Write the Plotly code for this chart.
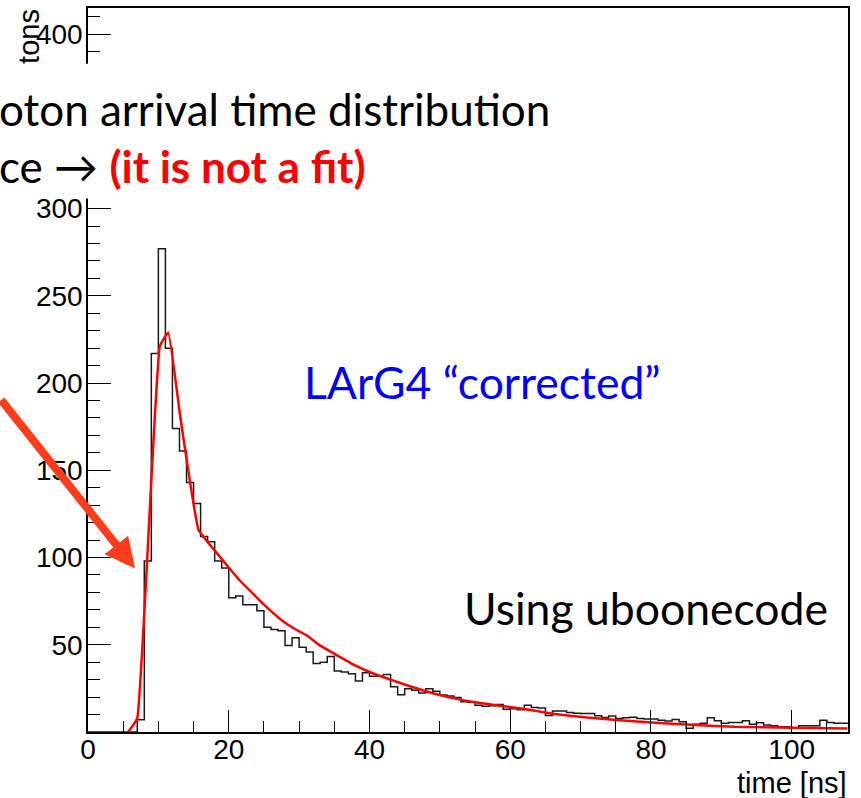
import plotly.graph_objects as go

# ---------------- data ----------------
# histogram: 1 ns bins from 0 to 108 ns
bin_low_edges = list(range(0, 108))
bin_counts = [
    0, 0, 0, 0, 0, 0, 0, 7, 98, 217,
    277, 220, 174, 161, 143, 131, 112, 109, 98, 94,
    77, 78, 73, 73, 69.5, 60, 58.7, 58, 49.6, 54,
    48.6, 45.8, 39.2, 40, 43.3, 35, 34.4, 33.4, 29.3, 34,
    32, 32, 33, 26, 21.4, 24.8, 23.9, 22.3, 24.8, 23.4,
    21.2, 20.7, 19.8, 17.3, 17, 15.4, 14.8, 15, 15.8, 13,
    13.3, 12.8, 15.3, 14, 13.8, 9.4, 12, 12, 11.2, 10.8,
    10.6, 10.6, 9.3, 8.3, 9.1, 7.8, 8.2, 8.5, 7.8, 7.4,
    7.4, 6.8, 6.3, 7.2, 5.9, 2.1, 4.4, 5, 8.2, 6.4,
    5, 5.5, 5.5, 6.4, 4.4, 5.3, 4, 3.6, 3, 3,
    2.4, 3.6, 3.6, 3.6, 6.8, 5.5, 5, 5,
]
hist_x_max = 108

# red reference curve
curve_t = [5.7, 7.0, 10.2, 11.4, 13.1, 15.7, 18.0, 20.2, 21.6, 23.0, 25.0, 27.3,
           29.2, 31.1, 33.0, 35.2, 37.8, 40.6, 43.0, 45.3, 50.1, 55.0, 61.5,
           66.0, 70.9, 78.5, 85.0, 91.8, 100.0, 107.9]
curve_v = [0, 8, 221, 229, 181, 116, 104, 93.3, 86.7, 81, 73, 64.8,
           59.5, 55.3, 49.5, 44.4, 38.5, 33.4, 30, 26.8, 21, 17, 13.5,
           10.5, 8.3, 5.9, 4.3, 3.0, 2.4, 2.0]

x_tick_vals = [0, 20, 40, 60, 80, 100]
# 350 sits under the slide's white text box in the picture
y_tick_vals = [50, 100, 150, 200, 250, 300, 400]

# ---------------- figure ----------------
W, H = 861, 798
L, R, T, B = 88, 13, 6, 66
PW, PH = W - L - R, H - T - B


def px(x):
    return (x - L) / PW


def py(y):
    return (H - B - y) / PH


step_x = bin_low_edges + [hist_x_max]
step_y = bin_counts + [bin_counts[-1]]

fig = go.Figure()
fig.add_trace(go.Scatter(
    x=step_x, y=step_y, mode="lines", line=dict(color="#1a1a1a", width=1.5, shape="hv"),
    hoverinfo="skip", showlegend=False))
fig.add_trace(go.Scatter(
    x=curve_t, y=curve_v, mode="lines", line=dict(color="#ff0000", width=2.5, shape="spline", smoothing=0.3),
    hoverinfo="skip", showlegend=False))

tickfont = dict(family="Liberation Sans, Arial, sans-serif", size=28, color="black")

fig.update_layout(
    width=W, height=H, autosize=False,
    margin=dict(l=L, r=R, t=T, b=B, pad=0),
    paper_bgcolor="white", plot_bgcolor="white",
    xaxis=dict(range=[0, hist_x_max], tickvals=x_tick_vals, ticks="inside", ticklen=22,
               tickwidth=1, tickcolor="black", showline=True, linecolor="black",
               linewidth=1.5, mirror=True, showgrid=False, zeroline=False,
               tickfont=tickfont, ticklabelstandoff=-8,
               minor=dict(dtick=5, tick0=0, ticks="inside", ticklen=11,
                          tickcolor="black", tickwidth=1, showgrid=False)),
    yaxis=dict(range=[0, 415], tickvals=y_tick_vals, ticks="inside", ticklen=23,
               tickwidth=1, tickcolor="black", showline=True, linecolor="black",
               linewidth=1.5, mirror=True, showgrid=False, zeroline=False,
               tickfont=tickfont, ticklabelstandoff=-2,
               minor=dict(dtick=10, tick0=0, ticks="inside", ticklen=12,
                          tickcolor="black", tickwidth=1, showgrid=False)),
)

# white text box from the slide covering part of the axis
fig.add_shape(type="rect", xref="paper", yref="paper",
              x0=px(-20), x1=px(560), y0=py(197), y1=py(62),
              fillcolor="white", line=dict(width=0), layer="above")

slide_font = "Lato, Calibri, sans-serif"
ann = []
# axis titles
ann.append(dict(text="time [ns]", xref="paper", yref="paper", x=px(849), y=py(783),
                xanchor="right", yanchor="middle", showarrow=False,
                font=dict(family="Liberation Sans, Arial, sans-serif", size=29, color="black")))
ann.append(dict(text="tons", xref="paper", yref="paper", x=px(29), y=py(34),
                xanchor="center", yanchor="middle", showarrow=False, textangle=-90,
                font=dict(family="Liberation Sans, Arial, sans-serif", size=29, color="black")))
# slide texts (two lines of one text box)
ann.append(dict(text="oton arrival time distribution<br>"
                     "ce \u2192 <span style='color:#ff0000'><b>(it is not a fit)</b></span>",
                xref="paper", yref="paper", align="left",
                x=px(-3), y=py(136), xanchor="left", yanchor="middle", showarrow=False,
                font=dict(family=slide_font, size=44, color="black")))
ann.append(dict(text="LArG4 \u201ccorrected\u201d", xref="paper", yref="paper",
                x=px(302), y=py(381), xanchor="left", yanchor="middle", showarrow=False,
                font=dict(family=slide_font, size=44.5, color="#0000ff")))
ann.append(dict(text="Using uboonecode", xref="paper", yref="paper",
                x=px(462), y=py(607), xanchor="left", yanchor="middle", showarrow=False,
                font=dict(family=slide_font, size=44.5, color="black")))
# red arrow
ann.append(dict(text="", xref="paper", yref="paper", x=px(135), y=py(568),
                ax=-145, ay=-170, showarrow=True, arrowhead=2, arrowsize=0.75,
                arrowwidth=8, arrowcolor="rgb(255,60,25)"))
fig.update_layout(annotations=ann)

fig.write_html("out.html", config={"displayModeBar": False},
               post_script="document.body.style.margin='0';document.body.style.padding='0';")
